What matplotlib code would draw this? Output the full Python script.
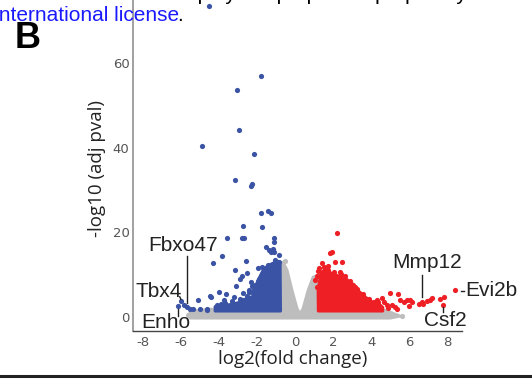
import matplotlib
matplotlib.use("Agg")
import matplotlib.pyplot as plt
from matplotlib.lines import Line2D

plt.rcParams['axes.unicode_minus'] = False

# ---------------- data ----------------
# dense non-significant cloud (envelope of gray points)
gray_env_x = [-5.51, -5.51, -4.46, -3.41, -2.05, -1.31, -0.89, -0.63, -0.42, -0.16, 0.10, 0.26,
              0.42, 0.68, 0.94, 1.21, 1.84, 2.89, 3.94, 4.99, 5.51, 4.99]
gray_env_y = [-0.36, 1.30, 1.78, 1.78, 2.49, 3.91, 11.0, 12.9, 11.0, 6.27, 2.01, 0.59,
              2.01, 6.27, 9.35, 9.82, 8.64, 5.09, 2.72, 1.07, 0.12, -0.36]
gray_x = [-5.35, -4.93, -4.62, -5.60, -5.20, 4.20, 4.72, 5.25, 5.60, -0.55, -0.7]
gray_y = [1.1, 1.1, 1.5, 0.4, 0.2, 0.8, 0.6, 0.35, 0.1, 13.2, 12.4]

# dense down-regulated core (envelope of blue points)
blue_env_x = [-4.2, -4.2, -3.5, -3.0, -2.6, -2.1, -2.0, -1.85, -1.7, -1.5, -1.2, -0.95, -0.78, -0.76]
blue_env_y = [1.3, 2.4, 2.8, 3.3, 4.2, 5.0, 8.0, 9.5, 10.8, 11.8, 12.6, 13.0, 12.4, 1.3]
blue_x = [-4.51, -1.80, -3.03, -2.92, -4.90, -2.17, -3.15, -2.24, -2.29, -1.78,
          -1.43, -1.28, -2.71, -1.72, -3.57, -2.77, -2.66, -1.10, -1.10, -1.52,
          -1.36, -1.17, -1.10, -1.28, -3.85, -4.29, -2.59, -0.82, -0.88, -3.15,
          -2.54, -2.77, -2.89, -2.33, -2.27, -3.11, -1.93, -1.75, -1.66, -3.99,
          -4.43, -3.62, -3.66, -2.71, -2.43, -4.64, -4.11, -6.13, -5.98, -5.83,
          -5.65, -5.51, -5.34, -5.11, -4.99, -4.46, -3.94, -4.60,
          -3.90, -3.30, -2.90, -2.50, -2.20, -2.05, -2.10, -1.90, -1.75, -1.55,
          -1.40, -1.05, -0.85, -3.50, -2.40, -2.15, -1.95, -3.75, -3.20, -2.75]
blue_y = [73.5, 57.0, 53.6, 44.2, 40.3, 38.5, 32.3, 31.5, 30.9, 24.6,
          25.0, 24.6, 21.5, 21.1, 18.5, 18.7, 18.7, 18.7, 17.7, 16.5,
          15.7, 16.1, 15.3, 15.3, 14.4, 12.8, 13.1, 14.6, 13.0, 11.0,
          10.4, 9.6, 8.8, 8.2, 7.2, 7.2, 11.4, 11.8, 10.6, 5.9,
          4.7, 5.3, 3.3, 5.5, 6.4, 1.9, 2.7, 2.6, 3.7, 2.7,
          2.2, 1.9, 1.9, 3.9, 1.7, 4.9, 2.3, 1.5,
          3.0, 3.6, 4.1, 4.9, 5.6, 6.6, 7.6, 9.0, 10.2, 11.5,
          12.2, 13.4, 12.9, 2.4, 5.8, 6.2, 8.4, 3.9, 4.6, 3.9]

# dense up-regulated core (envelope of red points)
red_env_x = [1.21, 1.20, 1.30, 1.35, 1.60, 1.90, 2.20, 2.50, 2.80, 3.10, 3.40, 3.70, 4.00, 4.40, 4.60, 4.60]
red_env_y = [1.3, 6.5, 9.0, 10.5, 11.2, 10.3, 9.8, 9.0, 8.0, 7.0, 5.8, 4.6, 3.6, 3.0, 2.2, 1.3]
red_x = [2.19, 1.84, 1.93, 1.40, 2.10, 2.45, 2.36, 2.40, 2.89, 3.15,
         3.41, 3.59, 4.11, 4.37, 1.05, 1.14, 3.06, 3.15, 3.41, 3.67,
         4.11, 4.29, 4.55, 4.64, 4.81, 5.08, 5.42, 5.51, 5.69, 5.86,
         6.13, 6.47, 6.65, 6.91, 7.18, 7.82, 7.78, 8.40, 4.99, 6.04,
         6.73, 7.09, 7.61, 5.25, 5.95,
         1.25, 1.50, 1.75, 2.05, 2.35, 2.65, 2.95, 3.25, 3.55, 3.85,
         4.20, 1.15, 1.20, 4.85, 5.35, 1.70, 2.60]
red_y = [19.8, 15.0, 15.2, 12.7, 13.0, 13.0, 10.6, 10.2, 8.5, 7.1,
         4.1, 3.1, 3.1, 3.5, 8.6, 7.1, 7.5, 6.3, 4.7, 3.9,
         3.5, 3.9, 4.3, 3.5, 2.7, 2.7, 5.3, 3.9, 3.5, 3.9,
         3.5, 3.0, 3.5, 3.7, 4.3, 4.7, 2.7, 6.2, 5.5, 3.9,
         3.1, 3.9, 4.1, 2.2, 2.4,
         11.5, 11.8, 11.0, 10.5, 9.6, 8.7, 7.8, 6.6, 5.4, 4.2,
         3.4, 9.7, 10.8, 2.0, 1.9, 12.1, 9.7]

# gene labels
labels = ["Fbxo47", "Tbx4", "Enho", "Mmp12", "Evi2b", "Csf2"]
label_x = [-5.85, -5.93, -6.77, 6.93, 8.92, 7.87]
label_y = [16.9, 6.0, -1.5, 12.7, 6.25, -0.95]
label_ha = ["center", "right", "center", "center", "left", "center"]
seg_x0 = [-5.67, -6.05, -6.14, 6.65, 8.71, 7.77]
seg_y0 = [14.4, 4.7, 0.2, 9.8, 6.1, 1.1]
seg_x1 = [-5.67, -5.99, -6.14, 6.65, 8.87, 7.77]
seg_y1 = [3.3, 4.1, 1.9, 4.7, 6.1, 2.3]

x_ticks = [-8, -6, -4, -2, 0, 2, 4, 6, 8]
y_ticks = [0, 20, 40, 60]

GRAY = "#bdbdbd"
BLUE = "#3a53a4"
RED = "#ee2026"

# ---------------- figure ----------------
fig = plt.figure(figsize=(5.32, 3.79), dpi=100)
ax = fig.add_axes([133 / 532, 1 - 331 / 379, 329 / 532, 83.4 * 4.225 / 379])
ax.set_xlim(-8.5, 8.75)
ax.set_ylim(-3.4, 80)

ax.fill(gray_env_x, gray_env_y, color=GRAY, lw=2, joinstyle="round", zorder=1)
ax.scatter(gray_x, gray_y, s=14, color=GRAY, lw=0, zorder=1)
ax.fill(blue_env_x, blue_env_y, color=BLUE, lw=2, joinstyle="round", zorder=2)
ax.scatter(blue_x, blue_y, s=14, color=BLUE, lw=0, zorder=2, clip_on=False)
ax.fill(red_env_x, red_env_y, color=RED, lw=2, joinstyle="round", zorder=2)
ax.scatter(red_x, red_y, s=14, color=RED, lw=0, zorder=2)

for name, lx, ly, ha, a, b, c, d in zip(labels, label_x, label_y, label_ha,
                                        seg_x0, seg_y0, seg_x1, seg_y1):
    ax.plot([a, c], [b, d], color="#222222", lw=1.0, zorder=3, clip_on=False)
    ax.text(lx, ly, name, ha=ha, va="center", fontsize=15, color="#222222",
            family="Liberation Sans", zorder=4, clip_on=False)

for s in ["top", "right"]:
    ax.spines[s].set_visible(False)
ax.spines["left"].set_color("#999999")
ax.spines["left"].set_linewidth(1.3)
ax.spines["bottom"].set_color("#444444")
ax.spines["bottom"].set_linewidth(1.0)

ax.set_xticks(x_ticks)
ax.set_yticks(y_ticks)
ax.set_xticklabels([str(t) for t in x_ticks])
ax.set_yticklabels([str(t) for t in y_ticks])
ax.tick_params(axis="both", length=0, labelsize=9.5, labelcolor="#555555")
ax.tick_params(axis="x", pad=3.5)
ax.tick_params(axis="y", pad=2.5)

ax.text(0.486, -0.079, "log2(fold change)", transform=ax.transAxes, ha="center",
        va="center", fontsize=13.5, color="#222222", family="Open Sans")
ax.text(-0.1094, 0.4625, "-log10 (adj pval)", transform=ax.transAxes, ha="center",
        va="center", rotation=90, fontsize=13.5, color="#222222", family="Open Sans")

# page context
fig.text(15 / 532, 1 - 48 / 379, "B", fontsize=26, fontweight="bold",
         family="Liberation Sans", va="baseline", ha="left")
fig.text(-7 / 532, 1 - 20.7 / 379, "International license", fontsize=15,
         color="#1a1aff", family="Liberation Sans", va="baseline", ha="left")
fig.text(177 / 532, 1 - 20.7 / 379, ".", fontsize=15, color="black",
         family="Liberation Sans", va="baseline", ha="left")
fig.text(171 / 532, 1 - 0.5 / 379, "display the preprint in perpetuity. It is made available under a",
         fontsize=15, color="black", family="Liberation Sans", va="baseline", ha="left")
fig.add_artist(Line2D([0, 1], [1 - 375.5 / 379, 1 - 375.5 / 379],
                      transform=fig.transFigure, color="#222222", lw=2.2))

fig.savefig("out.png", dpi=100)
